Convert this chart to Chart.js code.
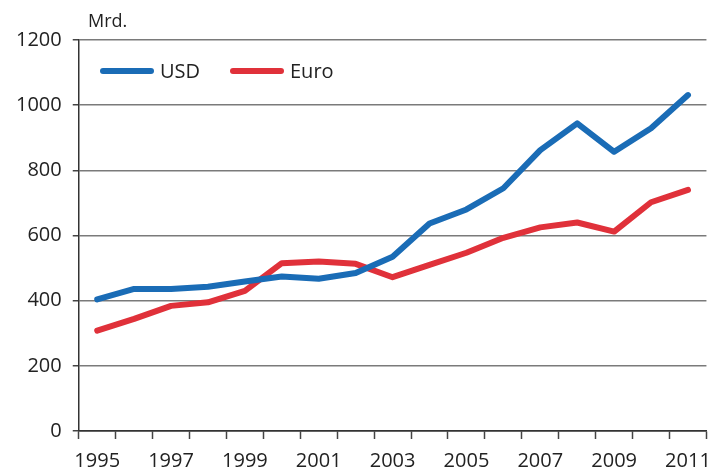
<!DOCTYPE html>
<html>
<head>
<meta charset="utf-8">
<script src="https://cdn.jsdelivr.net/npm/chart.js@4"></script>
<style>
  body { margin: 0; background: #fff; }
  #wrap { width: 721px; height: 471px; position: relative; }
</style>
</head>
<body>
<div id="wrap"><canvas id="chart"></canvas></div>
<script>
const years = ['1995','1996','1997','1998','1999','2000','2001','2002','2003',
               '2004','2005','2006','2007','2008','2009','2010','2011'];
const usd  = [404, 436, 436, 443, 459, 474, 467, 485, 535, 637, 680, 745, 862, 944, 857, 929, 1031];
const euro = [308, 344, 384, 395, 430, 515, 520, 513, 472, 510, 547, 593, 625, 640, 612, 702, 740];
const yTicks = [0, 200, 400, 600, 800, 1000, 1200];
const unitLabel = 'Mrd.';

const textColor = '#222';
const fontFam = '"Open Sans", "Noto Sans", sans-serif';

// legend + unit label drawn by hand so they sit inside the plot like the original
const extras = {
  id: 'extras',
  afterDraw(chart) {
    const c = chart.ctx;
    c.save();
    c.fillStyle = textColor;
    c.font = '18px ' + fontFam;
    c.textBaseline = 'middle';
    c.textAlign = 'left';
    c.fillText(unitLabel, 88, 22);

    const xs = [103, 233];
    chart.data.datasets.forEach((ds, i) => {
      const x = xs[i];
      c.strokeStyle = ds.borderColor;
      c.lineWidth = 6;
      c.lineCap = 'round';
      c.beginPath();
      c.moveTo(x, 71);
      c.lineTo(x + 48, 71);
      c.stroke();
      c.font = '20px ' + fontFam;
      c.fillStyle = textColor;
      c.fillText(ds.label, x + 57, 72);
    });
    c.restore();
  }
};

const ctx = document.getElementById('chart').getContext('2d');
const myChart = new Chart(ctx, {
  type: 'line',
  data: {
    labels: years,
    datasets: [{
      label: 'USD',
      data: usd,
      borderColor: '#1a6cb6',
      backgroundColor: '#1a6cb6',
      borderWidth: 6,
      pointRadius: 0,
      tension: 0,
      borderCapStyle: 'round',
      borderJoinStyle: 'round'
    }, {
      label: 'Euro',
      data: euro,
      borderColor: '#e0313a',
      backgroundColor: '#e0313a',
      borderWidth: 6,
      pointRadius: 0,
      tension: 0,
      borderCapStyle: 'round',
      borderJoinStyle: 'round'
    }]
  },
  options: {
    responsive: true,
    maintainAspectRatio: false,
    animation: false,
    layout: { padding: { top: 40, right: 5, left: 5, bottom: 0 } },
    plugins: {
      legend: { display: false },
      tooltip: { enabled: false }
    },
    scales: {
      x: {
        offset: true,
        afterFit: function (scale) { scale.height = 40; },
        grid: {
          offset: true,
          drawOnChartArea: false,
          tickLength: 8,
          tickWidth: 1.5,
          tickColor: '#444'
        },
        border: { color: '#333', width: 1.5 },
        ticks: {
          autoSkip: false,
          maxRotation: 0,
          padding: 10,
          color: textColor,
          font: { family: fontFam, size: 20 },
          callback: function (val, i) { return i % 2 === 0 ? years[i] : ''; }
        }
      },
      y: {
        min: 0,
        max: 1200,
        afterBuildTicks: function (axis) {
          axis.ticks = yTicks.map(v => ({ value: v }));
        },
        grid: {
          color: c => c.tick && c.tick.value === 0 ? '#333' : '#7a7a7a',
          lineWidth: 1.5,
          tickLength: 6,
          tickColor: '#444'
        },
        border: { color: '#333', width: 1.5 },
        ticks: {
          padding: 11,
          color: textColor,
          font: { family: fontFam, size: 20 },
          callback: function (v) { return String(v); }
        }
      }
    }
  },
  plugins: [extras]
});
</script>
</body>
</html>
